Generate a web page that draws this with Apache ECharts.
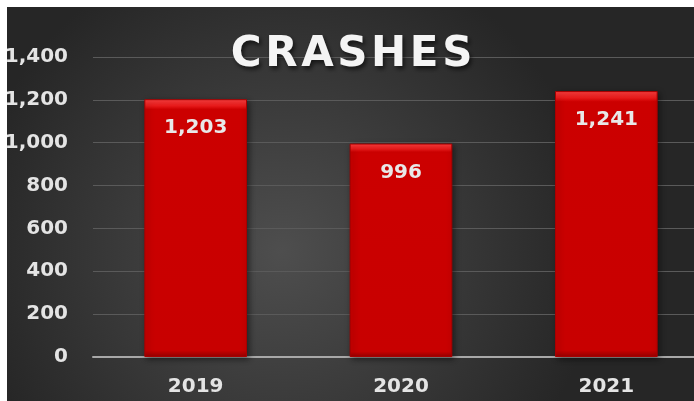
<!DOCTYPE html>
<html>
<head>
<meta charset="utf-8">
<script src="https://cdn.jsdelivr.net/npm/echarts@6/dist/echarts.min.js"></script>
<style>
  html, body { margin: 0; padding: 0; background: #ffffff; }
  #crashes { position: absolute; left: 7px; top: 7px; width: 687px; height: 394px; }
</style>
</head>
<body>
<div id="crashes"></div>
<script>
// data
const titleText = "CRASHES";
const years = ["2019", "2020", "2021"];
const crashCounts = [1203, 996, 1241];
const yMin = 0;
const yMax = 1400;
const yStep = 200;

const font = "DejaVu Sans";
const fmt = v => v.toLocaleString("en-US");

// spaced-out title letters (zrender has no letterSpacing)
const spacedTitle = titleText.split("").map(c => "{l|" + c + "}").join("");

const myChart = echarts.init(document.getElementById("crashes"));

const option = {
  backgroundColor: {
    type: "radial",
    x: 0.4, y: 0.62, r: 0.8,
    colorStops: [
      { offset: 0, color: "#4e4e4e" },
      { offset: 1, color: "#262626" }
    ]
  },
  title: {
    text: spacedTitle,
    left: 217,
    top: 22,
    textStyle: {
      rich: {
        l: {
          fontFamily: font,
          fontWeight: "bold",
          fontSize: 42,
          color: "#f4f4f4",
          padding: [0, 1.8],
          textShadowColor: "rgba(0,0,0,0.6)",
          textShadowBlur: 4,
          textShadowOffsetX: 2,
          textShadowOffsetY: 3
        }
      }
    }
  },
  grid: {
    left: 86,
    right: -15,
    top: 50,
    bottom: 44,
    containLabel: false,
    outerBoundsMode: "none"
  },
  xAxis: {
    type: "category",
    data: years,
    axisTick: { show: false },
    axisLine: { lineStyle: { color: "#a8a8a8", width: 2 } },
    axisLabel: {
      margin: 20,
      color: "#e4e4e4",
      fontFamily: font,
      fontWeight: "bold",
      fontSize: 20
    }
  },
  yAxis: {
    type: "value",
    min: yMin,
    max: yMax,
    interval: yStep,
    axisLine: { show: false },
    axisTick: { show: false },
    splitLine: { lineStyle: { color: "#5a5a5a", width: 1 } },
    axisLabel: {
      margin: 25,
      color: "#e4e4e4",
      fontFamily: font,
      fontWeight: "bold",
      fontSize: 20,
      formatter: fmt
    }
  },
  series: [
    {
      name: "Crashes",
      type: "bar",
      data: crashCounts,
      barWidth: "50%",
      itemStyle: {
        color: {
          type: "linear",
          x: 0, y: 0, x2: 0, y2: 1,
          colorStops: [
            { offset: 0, color: "#ff4040" },
            { offset: 0.025, color: "#ee1c1c" },
            { offset: 0.04, color: "#cc0000" },
            { offset: 0.975, color: "#c80000" },
            { offset: 1, color: "#980000" }
          ]
        },
        borderColor: "#a80000",
        borderWidth: 1,
        shadowColor: "rgba(0,0,0,0.45)",
        shadowBlur: 6,
        shadowOffsetX: 2,
        shadowOffsetY: 2
      },
      label: {
        show: true,
        position: "insideTop",
        distance: 19,
        color: "#e8e8e8",
        fontFamily: font,
        fontWeight: "bold",
        fontSize: 20,
        formatter: p => fmt(p.value)
      }
    }
  ]
};

myChart.setOption(option);
</script>
</body>
</html>
